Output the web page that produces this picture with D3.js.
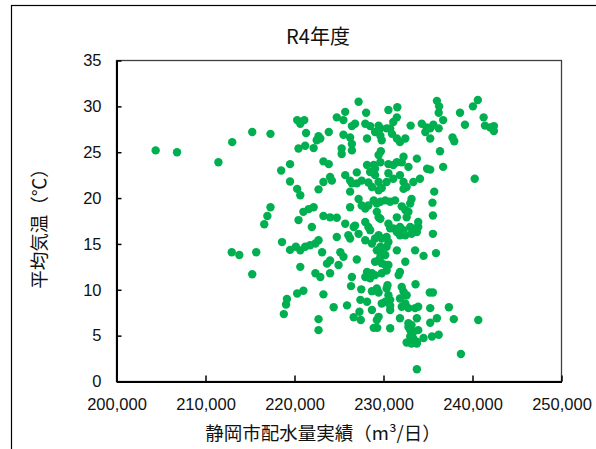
<!DOCTYPE html>
<html>
<head>
<meta charset="utf-8">
<script src="https://cdn.jsdelivr.net/npm/d3@7"></script>
<style>
	html, body { margin: 0; padding: 0; background: #fff; }
	svg { display: block; }
	.tick-label { font-family: "Liberation Sans", Arial, sans-serif; font-size: 16.5px; fill: #111; }
	.jp { font-family: "Noto Sans CJK JP", sans-serif; fill: #111; }
</style>
</head>
<body>
<svg id="chart" width="596" height="449"></svg>
<script>
// 配水量 (m3/日)
var waterVolume = [
	204400, 206800, 211450, 213000, 215250, 217300, 218500, 219500, 219500, 217300,
	216950, 216600, 218600, 219500, 220150, 212950, 213800, 215700, 215250, 219150,
	219050, 218800, 235700, 235500, 235550, 235550, 235900, 236000, 236250, 236200,
	236700, 235600, 236200, 235250, 237750, 237950, 236350, 236700, 235250, 240250,
	238600, 239150, 240600, 240050, 241250, 241400, 242000, 242400, 242400, 235550,
	235250, 236000, 235250, 237350, 237900, 240650, 235450, 236200, 238700,
	227200, 220300, 221100, 220650, 225700, 224750, 225500, 228050, 230550, 231550,
	231500, 231100, 230350, 229450, 229650, 227950, 228500, 226800, 226450, 221300,
	223850, 222700, 222900, 222500, 220450, 221200, 222150, 225500, 226250, 226450,
	225300, 225300, 226450, 228150, 229050, 229650, 229800, 230750, 230950, 231500,
	231850, 232450, 233050, 234300, 234850, 235250, 234700, 229450, 229700, 229650,
	228150, 228900, 229050, 223250, 223850, 230550, 231100, 231500, 232250, 232050,
	232800, 233750, 234900, 234100, 225700, 226250, 227000, 224000, 224200, 223250,
	228500, 229050, 230550, 231100, 231850, 232250, 233350, 226450, 227000, 227550,
	228300, 229450, 230350,
	220300, 220650, 222700, 226250, 228700, 229450, 229800, 232250, 232600, 227200,
	227550, 227950, 228300, 228900, 229250, 229650, 230200, 230750, 231300, 226250,
	229250, 229450, 229650, 232050, 232450, 233150, 233000, 232800, 232600, 231500,
	222150, 221600, 221000, 220450, 223250, 224000, 224750, 221950, 225700, 226650,
	226800, 227950, 228300, 228500, 227200, 230550, 230750, 231100, 231500, 231850,
	232250, 232450, 233000, 233550, 233900, 233900, 233150, 233750, 231850, 224750,
	226050, 226250, 220650, 221200, 221750, 222350, 222700, 223100, 225150, 225500,
	224000, 223650, 227000, 220650, 224950, 222350, 222900, 224000, 226450, 227950,
	228700, 229050, 229450, 229800, 230350, 230550, 230350, 229650, 229250, 229800,
	230200, 229650, 229450, 229050, 229800, 230200, 230550, 230350, 229800, 229050,
	228700, 228150, 227950, 228500, 231500, 232450, 231850, 231700, 233550, 234500,
	233600, 230450,
	220300, 221000, 223250, 224400, 222700, 222700, 225900, 226350, 227500, 228700,
	229250, 229450, 230350, 230550, 230750, 230200, 229800, 230750, 230750, 232050,
	232250, 232600, 231850, 232450, 235200, 227400, 228150, 228700, 227300, 227450,
	226650, 229450, 229250, 228900, 229300, 230750, 231850, 232050, 232800, 233550,
	233900, 233750, 232800, 232800, 233150, 233000, 233350, 233900, 233000, 233350,
	233750, 232600, 233150, 233750, 234500, 233750
];

// 平均気温 (℃)
var temperature = [
	25.2, 25.0, 23.9, 26.1, 27.2, 27.0, 23.0, 23.7, 21.8, 19.0,
	18.05, 17.15, 15.2, 14.35, 14.7, 14.1, 13.8, 14.1, 11.7, 9.0,
	8.4, 7.35, 20.7, 19.5, 18.1, 16.1, 14.0, 30.6, 30.0, 29.3,
	28.5, 28.0, 27.6, 26.5, 26.6, 26.2, 25.1, 23.4, 23.1, 22.1,
	29.3, 28.0, 30.7, 30.0, 28.8, 27.9, 27.7, 27.85, 27.3, 9.7,
	8.0, 6.9, 6.4, 8.1, 6.8, 6.7, 4.9, 5.1, 3.0,
	30.5, 28.5, 28.5, 28.1, 29.4, 28.8, 28.5, 29.3, 29.6, 29.9,
	28.8, 28.3, 27.6, 27.9, 27.6, 28.1, 27.85, 28.1, 27.85, 27.1,
	27.2, 26.75, 26.5, 26.3, 25.4, 25.7, 25.45, 26.9, 26.6, 25.9,
	25.4, 24.8, 25.2, 26.5, 27.2, 26.8, 26.3, 27.6, 27.0, 26.5,
	26.1, 26.5, 27.9, 28.1, 27.7, 27.6, 27.2, 24.7, 25.1, 23.9,
	23.6, 23.6, 23.2, 24.0, 23.7, 23.7, 23.6, 23.9, 24.5, 23.9,
	23.4, 24.3, 23.2, 22.1, 22.5, 21.9, 22.8, 22.3, 21.9, 21.75,
	22.85, 22.5, 22.7, 22.1, 22.5, 21.75, 21.75, 21.6, 21.6, 21.9,
	21.7, 21.75, 21.75,
	21.0, 20.3, 20.95, 20.7, 21.2, 20.85, 21.1, 21.0, 21.2, 19.9,
	19.2, 18.85, 19.2, 19.75, 19.4, 19.6, 19.75, 19.6, 19.75, 19.0,
	18.5, 17.9, 17.75, 19.1, 18.7, 19.9, 19.4, 18.5, 17.9, 17.9,
	19.0, 18.8, 18.5, 17.6, 18.05, 17.9, 17.85, 16.85, 17.2, 16.85,
	17.0, 17.4, 16.85, 16.5, 16.1, 17.2, 16.7, 16.7, 16.3, 16.85,
	16.5, 15.95, 16.85, 16.7, 17.4, 16.85, 16.1, 16.3, 15.95, 15.75,
	15.95, 15.6, 14.3, 14.7, 14.85, 15.05, 15.4, 14.1, 14.1, 13.6,
	13.2, 12.85, 13.3, 12.5, 12.7, 11.8, 11.4, 11.8, 11.4, 15.4,
	15.05, 15.6, 15.95, 15.6, 15.75, 15.2, 14.7, 14.7, 14.3, 14.1,
	13.8, 13.6, 13.2, 13.05, 12.9, 12.7, 12.7, 12.1, 11.8, 11.6,
	11.8, 11.95, 11.4, 11.25, 14.3, 13.05, 11.95, 11.6, 14.3, 13.7,
	10.6, 10.5,
	9.6, 9.9, 9.5, 8.1, 6.8, 5.6, 8.3, 10.4, 10.05, 9.85,
	10.15, 9.7, 10.15, 9.4, 8.9, 8.7, 8.5, 8.25, 7.8, 10.3,
	9.8, 9.4, 9.05, 8.5, 9.7, 8.9, 8.7, 7.8, 7.6, 6.7,
	7.0, 7.05, 6.7, 5.85, 5.85, 5.8, 6.9, 8.15, 8.0, 8.0,
	8.15, 6.9, 6.35, 5.95, 6.15, 5.6, 5.4, 5.6, 4.9, 4.7,
	4.35, 4.25, 4.15, 4.15, 4.75, 1.33
];

var xTicks = [200000, 210000, 220000, 230000, 240000, 250000];
var yTicks = [0, 5, 10, 15, 20, 25, 30, 35];

var chartTitle = 'R4年度';
var xTitle = '静岡市配水量実績（m³/日）';
var yTitle = '平均気温（℃）';

var points = waterVolume.map(function (v, i) {
	return { x: v, y: temperature[i] };
});

var svg = d3.select('#chart');

var plotLeft = 116.5, plotRight = 561.5, plotTop = 60.5, plotBottom = 381.5;

var x = d3.scaleLinear().domain([200000, 250000]).range([plotLeft, plotRight]);
var y = d3.scaleLinear().domain([0, 35]).range([plotBottom, plotTop]);
var fmt = d3.format(',');

// chart frame
svg.append('rect')
	.attr('x', 11.5)
	.attr('y', 5.5)
	.attr('width', 600)
	.attr('height', 460)
	.attr('fill', '#fff')
	.attr('stroke', '#000')
	.attr('stroke-width', 1.2);

// plot area border
svg.append('rect')
	.attr('x', plotLeft)
	.attr('y', plotTop)
	.attr('width', plotRight - plotLeft)
	.attr('height', plotBottom - plotTop)
	.attr('fill', 'none')
	.attr('stroke', '#404040')
	.attr('stroke-width', 1.3);

// points
svg.append('g')
	.selectAll('circle')
	.data(points)
	.enter()
	.append('circle')
	.attr('cx', function (d) { return x(d.x); })
	.attr('cy', function (d) { return y(d.y); })
	.attr('r', 4.2)
	.attr('fill', '#00B050');

// axes
var xAxis = d3.axisBottom(x)
	.tickValues(xTicks)
	.tickSizeInner(-6)
	.tickSizeOuter(0)
	.tickPadding(17)
	.tickFormat(fmt);

var yAxis = d3.axisLeft(y)
	.tickValues(yTicks)
	.tickSizeInner(-5)
	.tickSizeOuter(0)
	.tickPadding(15);

var gx = svg.append('g')
	.attr('transform', 'translate(0,' + plotBottom + ')')
	.call(xAxis);
var gy = svg.append('g')
	.attr('transform', 'translate(' + plotLeft + ',0)')
	.call(yAxis);

[gx, gy].forEach(function (g) {
	g.attr('font-family', null).attr('font-size', null);
	g.select('.domain').attr('stroke', '#000').attr('stroke-width', 2);
	g.selectAll('.tick line').attr('stroke', '#000').attr('stroke-width', 1.5);
	g.selectAll('.tick text')
		.attr('class', 'tick-label')
		.attr('fill', null);
});

// titles
svg.append('text')
	.attr('class', 'jp')
	.attr('x', 318)
	.attr('y', 44)
	.attr('text-anchor', 'middle')
	.attr('font-size', 20)
	.text(chartTitle);

svg.append('text')
	.attr('class', 'jp')
	.attr('x', 323)
	.attr('y', 440)
	.attr('text-anchor', 'middle')
	.attr('font-size', 18.5)
	.text(xTitle);

svg.append('text')
	.attr('class', 'jp')
	.attr('transform', 'translate(46,224) rotate(-90)')
	.attr('text-anchor', 'middle')
	.attr('font-size', 18.5)
	.text(yTitle);
</script>
</body>
</html>
